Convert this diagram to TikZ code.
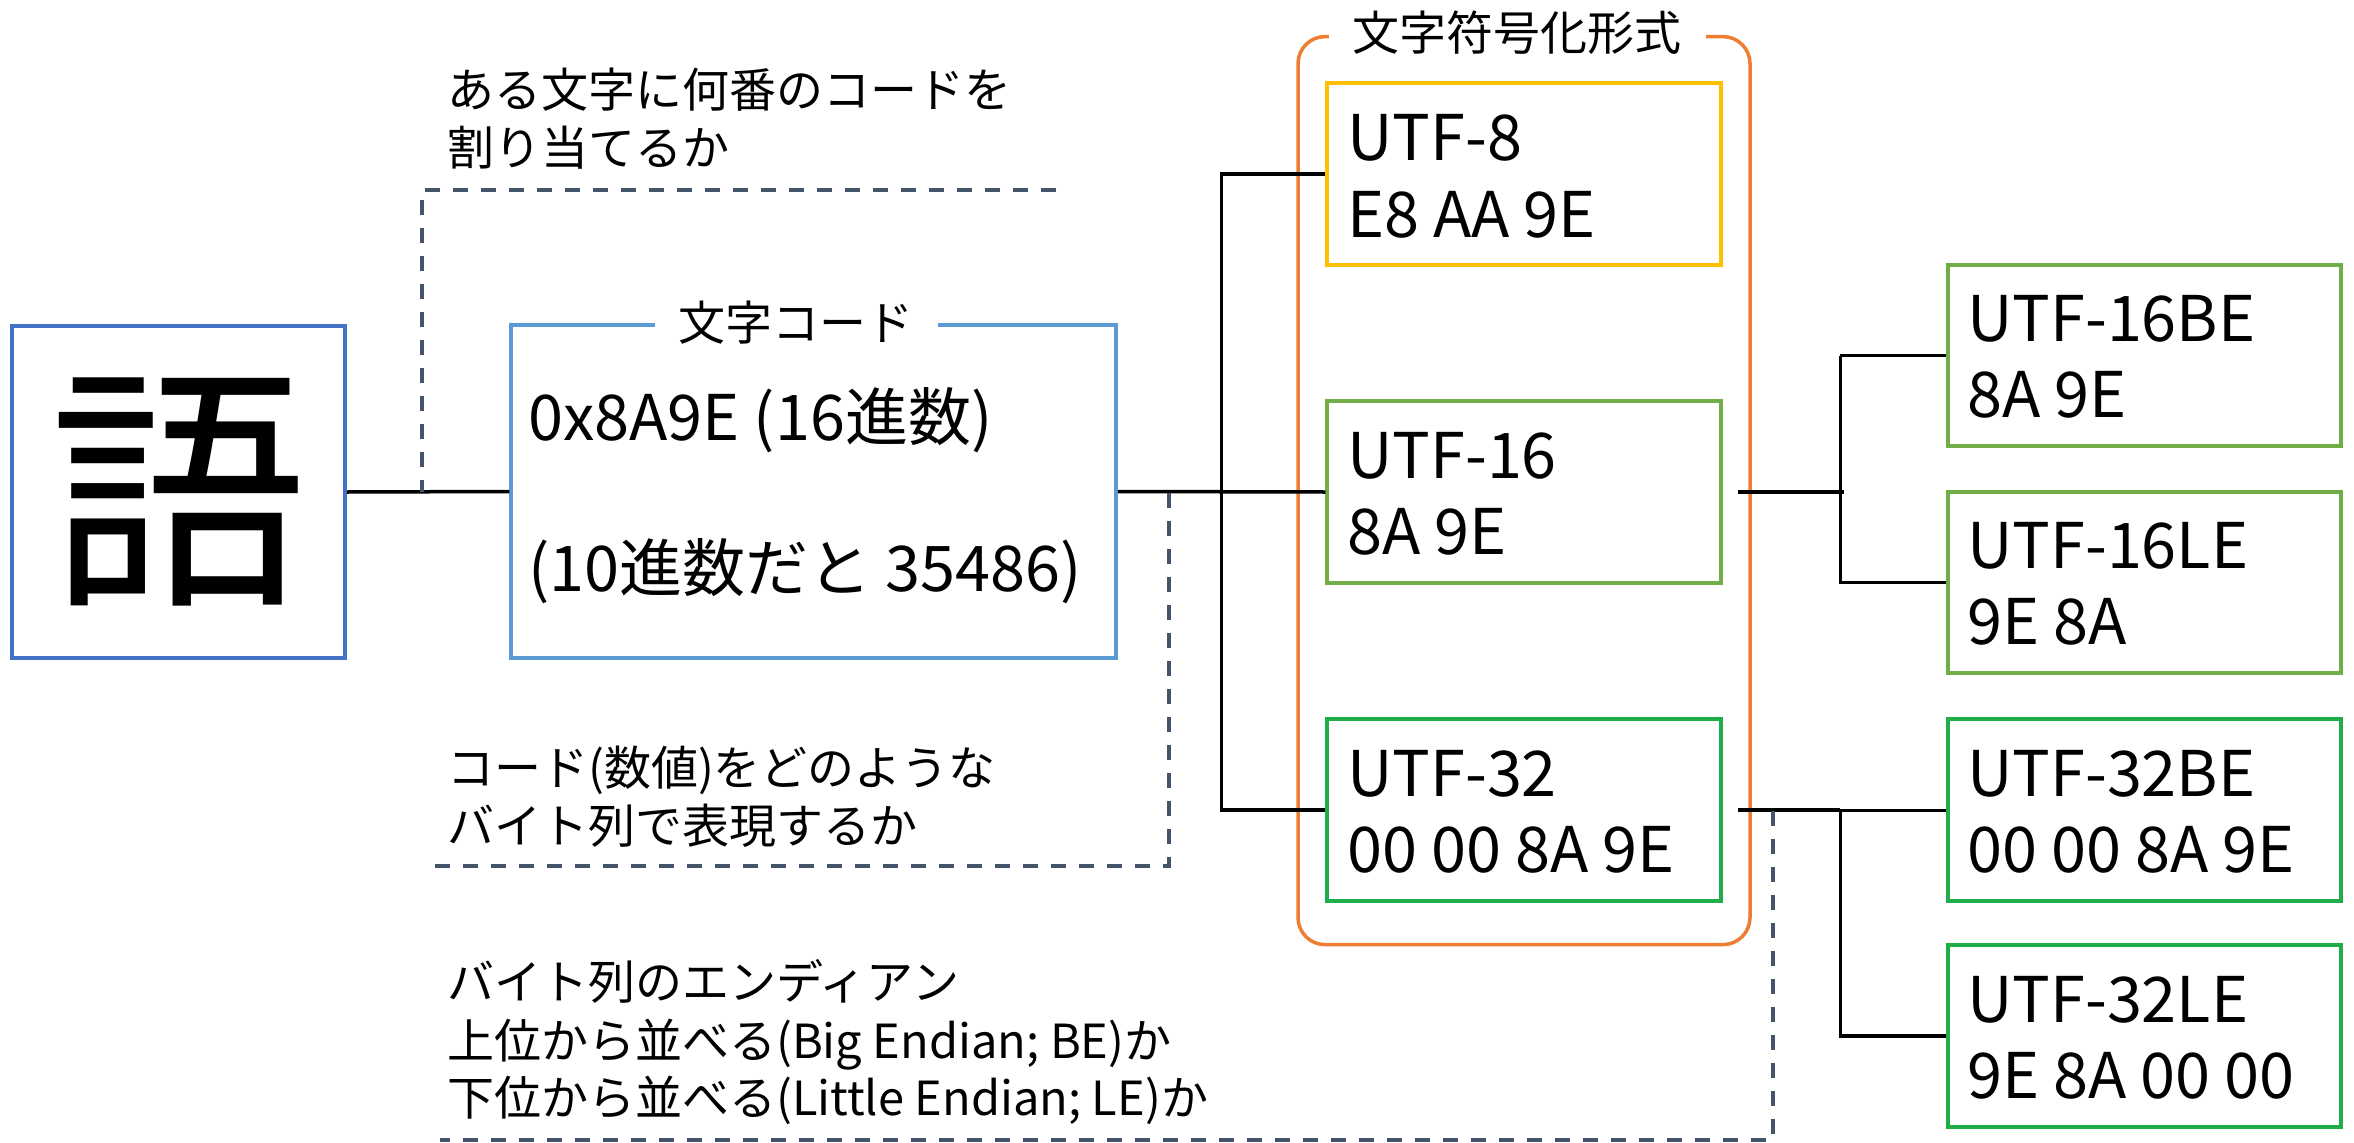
\documentclass[tikz,border=0pt]{standalone}
\usepackage{fontspec}
\setmainfont{Noto Sans CJK JP}
\definecolor{gobl}{HTML}{4472C4}
\definecolor{codebl}{HTML}{5B9BD5}
\definecolor{orangec}{HTML}{ED7D31}
\definecolor{yellowc}{HTML}{FFC000}
\definecolor{greenA}{HTML}{70AD47}
\definecolor{greenB}{HTML}{1FAE4A}
\definecolor{guidec}{HTML}{44546A}
\begin{document}
\begin{tikzpicture}[x=1pt,y=-1pt,
  box/.style={draw, line width=3.5pt, rectangle, inner sep=0pt},
  bigtxt/.style={font=\fontsize{63}{77}\selectfont, inner sep=0pt, anchor=base west},
  note/.style={font=\fontsize{47}{58}\selectfont, inner sep=0pt, anchor=base west},
  conn/.style={line width=3.5pt, draw=black},
  guide/.style={line width=3.5pt, draw=guidec, dash pattern=on 15pt off 13pt},
  titl/.style={font=\fontsize{47}{58}\selectfont, fill=white, inner xsep=24pt, inner ysep=2pt, anchor=base}]
\useasboundingbox (0,0) rectangle (2354,1143);

% group container
\node[draw=orangec, line width=3.5pt, rounded corners=27pt, minimum width=452pt, minimum height=908pt, inner sep=0pt] (grp) at (1524,490.6) {};

% boxes
\node[box, draw=gobl, minimum width=333pt, minimum height=332pt] (go) at (178.5,492) {};
\node[inner sep=0pt, font=\fontsize{258}{258}\selectfont] (gochar) at (178.5,491.5) {語};
\node[box, draw=codebl, minimum width=605pt, minimum height=333pt] (code) at (813.5,491.5) {};
\node[box, draw=yellowc, minimum width=394pt, minimum height=182pt] (u8) at (1524,174) {};
\node[box, draw=greenA, minimum width=394pt, minimum height=182pt] (u16) at (1524,492) {};
\node[box, draw=greenB, minimum width=394pt, minimum height=182pt] (u32) at (1524,810) {};
\node[box, draw=greenA, minimum width=393pt, minimum height=181pt] (u16be) at (2144.5,355.5) {};
\node[box, draw=greenA, minimum width=393pt, minimum height=181pt] (u16le) at (2144.5,582.5) {};
\node[box, draw=greenB, minimum width=393pt, minimum height=182pt] (u32be) at (2144.5,810) {};
\node[box, draw=greenB, minimum width=393pt, minimum height=182pt] (u32le) at (2144.5,1036) {};

% connectors
\draw[conn] (go.east) -- (code.west);
\draw[conn] (code.east) -- (u16.west);
\draw[conn] (u8.west) -- ++(-104,0) |- (u32.west);
\draw[conn] ([xshift=15pt]u16.east) -- ++(106,0);
\draw[conn] ([xshift=-106pt]u16be.west) -- (u16be.west);
\draw[conn] ([xshift=-106pt]u16be.west) |- (u16le.west);
\draw[conn] ([xshift=15pt]u32.east) -- ([xshift=-106pt]u32be.west);
\draw[line width=3pt] ([xshift=-106pt]u32be.west) -- (u32be.west);
\draw[conn] ([xshift=-106pt]u32be.west) |- (u32le.west);

% guide (dashed) lines
\coordinate (g1a) at (1056,190);
\coordinate (g1b) at (422,492);
\coordinate (g2a) at (1169,493);
\coordinate (g2b) at (435,866);
\coordinate (g3a) at (1773,811);
\coordinate (g3b) at (440,1140);
\draw[guide] (g1a) -| (g1b);
\draw[guide] (g2a) |- (g2b);
\draw[guide] (g3a) |- (g3b);

% titles
\node[titl] (grpt) at (1517,50) {文字符号化形式};
\node[titl] (codet) at (796,340) {文字コード};

% box texts
\node[bigtxt] (c1) at (528,440) {0x8A9E (16進数)};
\node[bigtxt] (c2) at (528,591) {(10進数だと 35486)};
\node[bigtxt] (a1) at (1347,160) {UTF-8};
\node[bigtxt] (a2) at (1347,237) {E8 AA 9E};
\node[bigtxt] (b1) at (1347,478) {UTF-16};
\node[bigtxt] (b2) at (1347,554) {8A 9E};
\node[bigtxt] (e1) at (1347,796) {UTF-32};
\node[bigtxt] (e2) at (1347,872) {00 00 8A 9E};
\node[bigtxt] (f1) at (1967,341.5) {UTF-16BE};
\node[bigtxt] (f2) at (1967,417.5) {8A 9E};
\node[bigtxt] (h1) at (1967,568) {UTF-16LE};
\node[bigtxt] (h2) at (1967,644) {9E 8A};
\node[bigtxt] (k1) at (1967,796) {UTF-32BE};
\node[bigtxt] (k2) at (1967,872) {00 00 8A 9E};
\node[bigtxt] (m1) at (1967,1022) {UTF-32LE};
\node[bigtxt] (m2) at (1967,1098) {9E 8A 00 00};

% notes
\node[note] (n1) at (447,107) {ある文字に何番のコードを};
\node[note] (n2) at (447,165) {割り当てるか};
\node[note] (n3) at (447,785) {コード(数値)をどのような};
\node[note] (n4) at (447,843) {バイト列で表現するか};
\node[note] (n5) at (447,999) {バイト列のエンディアン};
\node[note] (n6) at (447,1058) {上位から並べる(Big Endian; BE)か};
\node[note] (n7) at (447,1115) {下位から並べる(Little Endian; LE)か};
\end{tikzpicture}
\end{document}
